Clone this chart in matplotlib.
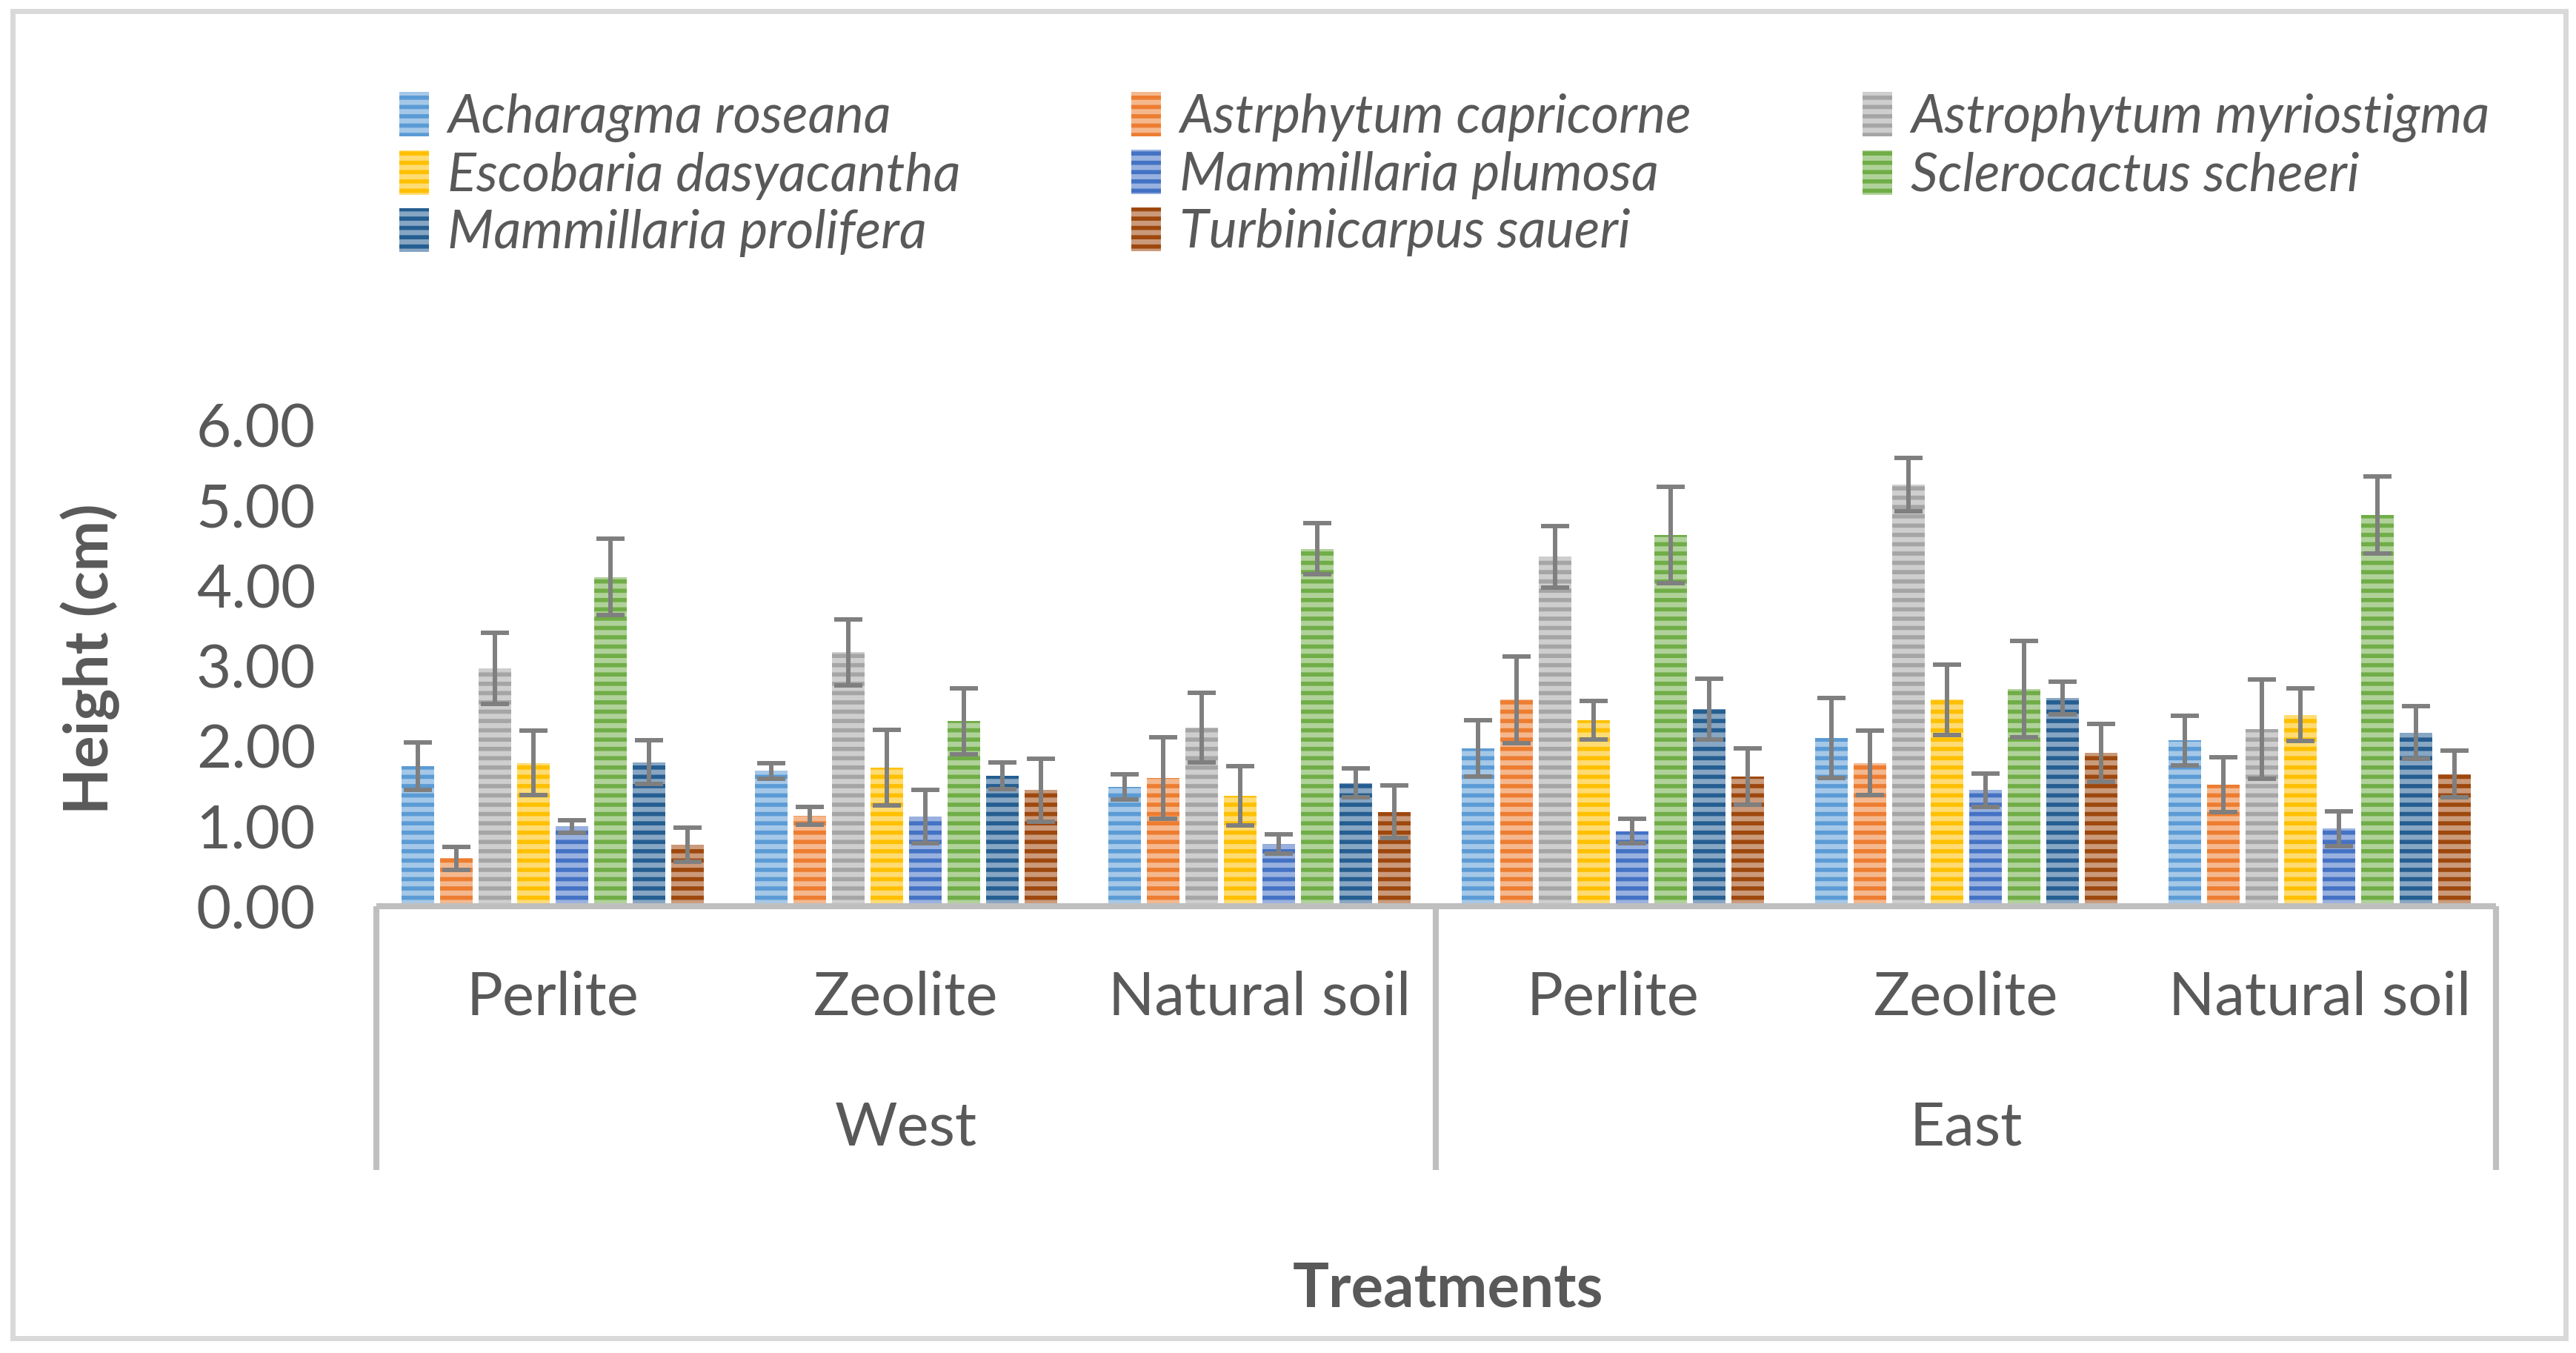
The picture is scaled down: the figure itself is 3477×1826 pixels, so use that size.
import matplotlib.pyplot as plt
import matplotlib.patches as mpatches
from matplotlib.colors import to_rgb
import numpy as np

plt.rcParams['font.family'] = ['Lato', 'DejaVu Sans']
plt.rcParams['hatch.linewidth'] = 1.8

treatments = ['Perlite', 'Zeolite', 'Natural soil', 'Perlite', 'Zeolite', 'Natural soil']
sites = ['West', 'East']

species = ['Acharagma roseana', 'Astrphytum capricorne', 'Astrophytum myriostigma',
           'Escobaria dasyacantha', 'Mammillaria plumosa', 'Sclerocactus scheeri',
           'Mammillaria prolifera', 'Turbinicarpus saueri']
colors = ['#5B9BD5', '#ED7D31', '#A5A5A5', '#FFC000', '#4472C4', '#70AD47', '#255E91', '#9E480E']

acharagma = [1.75, 1.69, 1.49, 1.97, 2.10, 2.07]
astr_cap = [0.60, 1.13, 1.60, 2.58, 1.79, 1.52]
astr_myr = [2.97, 3.17, 2.23, 4.36, 5.26, 2.21]
escobaria = [1.79, 1.73, 1.38, 2.32, 2.58, 2.39]
plumosa = [1.00, 1.12, 0.78, 0.94, 1.45, 0.97]
sclero = [4.11, 2.31, 4.46, 4.63, 2.71, 4.88]
prolifera = [1.80, 1.63, 1.54, 2.46, 2.60, 2.17]
turbini = [0.77, 1.45, 1.18, 1.62, 1.92, 1.65]

acharagma_err = [0.30, 0.10, 0.16, 0.35, 0.50, 0.31]
astr_cap_err = [0.14, 0.11, 0.51, 0.54, 0.40, 0.34]
astr_myr_err = [0.44, 0.41, 0.43, 0.38, 0.33, 0.62]
escobaria_err = [0.40, 0.47, 0.37, 0.24, 0.44, 0.33]
plumosa_err = [0.08, 0.33, 0.12, 0.15, 0.21, 0.22]
sclero_err = [0.48, 0.41, 0.32, 0.60, 0.60, 0.48]
prolifera_err = [0.27, 0.17, 0.18, 0.38, 0.20, 0.33]
turbini_err = [0.21, 0.39, 0.33, 0.35, 0.36, 0.29]

values = [acharagma, astr_cap, astr_myr, escobaria, plumosa, sclero, prolifera, turbini]
errors = [acharagma_err, astr_cap_err, astr_myr_err, escobaria_err, plumosa_err,
          sclero_err, prolifera_err, turbini_err]

text_col = '#595959'
line_col = '#BFBFBF'


def tint(c, f=0.45):
    r = np.array(to_rgb(c))
    return tuple(r + (1 - r) * f)


fig = plt.figure(figsize=(3477 / 226, 1826 / 226), dpi=226)
ax = fig.add_axes([0.146, 0.330, 0.823, 0.3557])

x = np.arange(len(treatments))
slot = 0.109
width = 0.092
handles = []
for j, (name, vals, errs, c) in enumerate(zip(species, values, errors, colors)):
    pos = x + (j - 3.5) * slot
    ax.bar(pos, vals, width, facecolor=tint(c), edgecolor=c, linewidth=0,
           hatch='---', zorder=2)
    ax.errorbar(pos, vals, yerr=errs, fmt='none', ecolor='#7F7F7F', elinewidth=1.9,
                capsize=6, capthick=1.9, zorder=3)
    handles.append(mpatches.Rectangle((0, 0), 1, 1, facecolor=tint(c), edgecolor=c,
                                      linewidth=0, hatch='---'))

ax.set_xlim(-0.5, 5.5)
ax.set_ylim(0, 6)
ax.set_yticks(np.arange(0, 7, 1))
ax.set_yticklabels(['%.2f' % v for v in np.arange(0, 7, 1)])
ax.set_xticks([])
ax.tick_params(axis='y', length=0, labelsize=26, labelcolor=text_col, pad=26)
for s in ax.spines.values():
    s.set_visible(False)

# multi-level category axis
ax.plot([-0.5, 5.5], [0, 0], color=line_col, lw=2.6, clip_on=False, zorder=4,
        solid_capstyle='butt')
trans = ax.get_xaxis_transform()
for xv in [-0.5, 2.5, 5.5]:
    ax.plot([xv, xv], [0, -0.548], color=line_col, lw=2.6, clip_on=False,
            transform=trans, solid_capstyle='butt')
for i, t in enumerate(treatments):
    ax.text(i, -0.19, t, transform=trans, ha='center', va='center', fontsize=26,
            color=text_col)
for k, s in enumerate(sites):
    ax.text(1 + 3 * k, -0.46, s, transform=trans, ha='center', va='center',
            fontsize=26, color=text_col)

fig.text(0.562, 0.047, 'Treatments', ha='center', va='center', fontsize=26,
         fontweight='bold', color=text_col)
fig.text(0.035, 0.513, 'Height (cm)', ha='center', va='center', rotation=90,
         fontsize=26, fontweight='bold', color=text_col)

order = [0, 3, 6, 1, 4, 7, 2, 5]
leg = fig.legend([handles[i] for i in order], [species[i] for i in order],
                 loc='upper left', bbox_to_anchor=(0.155, 0.932), ncol=3,
                 frameon=False, prop={'style': 'italic', 'size': 23},
                 handlelength=0.55, handleheight=0.9, handletextpad=0.35,
                 columnspacing=3.2, labelspacing=0.15, borderpad=0, borderaxespad=0)
for t in leg.get_texts():
    t.set_color(text_col)

fig.patches.append(mpatches.Rectangle((0.005, 0.011), 0.991, 0.981,
                                      transform=fig.transFigure, fill=False,
                                      edgecolor='#D9D9D9', linewidth=2.2))

fig.savefig('out.png', dpi=226)
